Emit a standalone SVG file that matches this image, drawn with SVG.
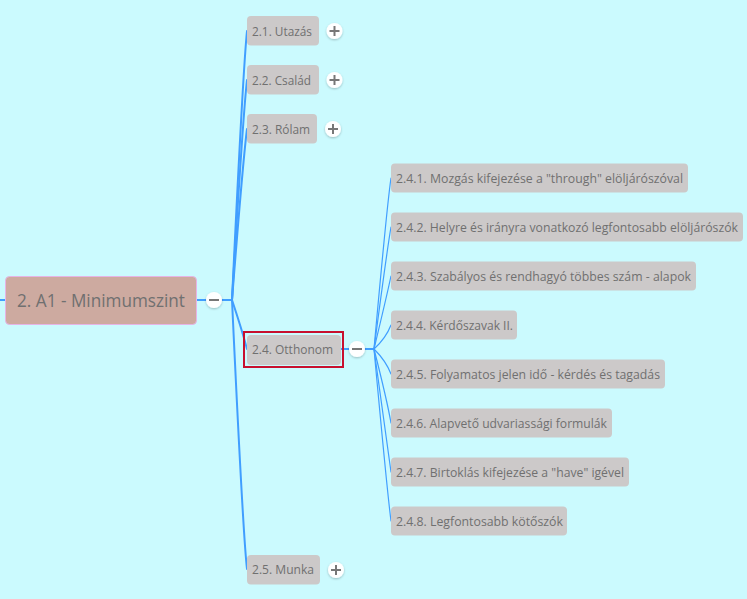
<svg xmlns="http://www.w3.org/2000/svg" width="747" height="599" viewBox="0 0 747 599">
<defs>
<filter id="sh" x="-50%" y="-50%" width="200%" height="200%">
<feDropShadow dx="0" dy="1" stdDeviation="0.8" flood-color="#000" flood-opacity="0.25"/>
</filter>
</defs>
<style>
.bg{fill:#CBFAFE}
.box{fill:#CCC9C9}
.root{fill:#CDAAA0;stroke:#E6B4E6;stroke-width:1}
.t{font-family:"Open Sans","Noto Sans",sans-serif;font-size:12px;fill:#707070}
.rt{font-family:"Open Sans","Noto Sans",sans-serif;font-size:19px;fill:#707070}
.l1{fill:none;stroke:#409EFF;stroke-width:2;stroke-linecap:round}
.l2{fill:none;stroke:#409EFF;stroke-width:1.2;stroke-linecap:round}
.btn{fill:#FFFFFF;filter:url(#sh)}
.sym{stroke:#777;stroke-width:2;fill:none}
.sel{fill:none;stroke:#C8102E;stroke-width:2}
</style>
<rect class="bg" x="0" y="0" width="747" height="599"/>
<g id="connectors">
<path class="l1" d="M0,300 H5"/>
<path class="l1" d="M196,300 H232"/>
<path class="l1" d="M232,300 Q243,70 247,31"/>
<path class="l1" d="M232,300 Q243,115 247,80"/>
<path class="l1" d="M232,300 Q243,160 247,129"/>
<path class="l1" d="M232,300 Q242,330 247,349"/>
<path class="l1" d="M232,300 Q243,535 247,569"/>
<path class="l1" d="M341,349 H374"/>
<path class="l2" d="M374,349 Q387,205 391,178"/>
<path class="l2" d="M374,349 Q387,250 391,227"/>
<path class="l2" d="M374,349 Q387,295 391,276"/>
<path class="l2" d="M374,349 Q386,338 391,325"/>
<path class="l2" d="M374,349 Q386,361 391,374"/>
<path class="l2" d="M374,349 Q387,400 391,423"/>
<path class="l2" d="M374,349 Q387,445 391,472"/>
<path class="l2" d="M374,349 Q387,490 391,521"/>
</g>
<g id="root">
<rect class="root" x="5.5" y="276.5" width="191" height="48" rx="4"/>
<text class="rt" x="17" y="307" textLength="168" lengthAdjust="spacingAndGlyphs">2. A1 - Minimumszint</text>
<circle class="btn" cx="214" cy="300" r="8"/>
<path class="sym" d="M209,300 H219"/>
</g>
<g id="n21">
<rect class="box" x="247" y="16" width="72" height="29.5" rx="4"/>
<text class="t" x="252" y="35.5" textLength="60" lengthAdjust="spacingAndGlyphs">2.1. Utazás</text>
<circle class="btn" cx="334.5" cy="31" r="8"/>
<path class="sym" d="M329.5,31 H339.5 M334.5,26 V36"/>
</g>
<g id="n22">
<rect class="box" x="247" y="65" width="72" height="29.5" rx="4"/>
<text class="t" x="252" y="84.5" textLength="59" lengthAdjust="spacingAndGlyphs">2.2. Család</text>
<circle class="btn" cx="334.5" cy="80" r="8"/>
<path class="sym" d="M329.5,80 H339.5 M334.5,75 V85"/>
</g>
<g id="n23">
<rect class="box" x="247" y="114" width="70" height="29.5" rx="4"/>
<text class="t" x="252" y="133.5" textLength="58" lengthAdjust="spacingAndGlyphs">2.3. Rólam</text>
<circle class="btn" cx="333" cy="129" r="8"/>
<path class="sym" d="M328,129 H338 M333,124 V134"/>
</g>
<g id="n24">
<rect class="box" x="247" y="335" width="94" height="30" rx="4"/>
<rect class="sel" x="244" y="332" width="99" height="35"/>
<text class="t" x="252" y="353.5" textLength="81" lengthAdjust="spacingAndGlyphs">2.4. Otthonom</text>
<circle class="btn" cx="357" cy="349" r="8"/>
<path class="sym" d="M352,349 H362"/>
</g>
<g id="n25">
<rect class="box" x="247" y="555" width="73" height="29.5" rx="4"/>
<text class="t" x="252" y="574" textLength="62" lengthAdjust="spacingAndGlyphs">2.5. Munka</text>
<circle class="btn" cx="336" cy="570" r="8"/>
<path class="sym" d="M331,570 H341 M336,565 V575"/>
</g>
<g id="n241">
<rect class="box" x="391" y="163.5" width="297" height="29" rx="4"/>
<text class="t" x="396" y="182.5" textLength="287" lengthAdjust="spacingAndGlyphs">2.4.1. Mozgás kifejezése a "through" elöljárószóval</text>
</g>
<g id="n242">
<rect class="box" x="391" y="212.5" width="352" height="29" rx="4"/>
<text class="t" x="396" y="231.5" textLength="342" lengthAdjust="spacingAndGlyphs">2.4.2. Helyre és irányra vonatkozó legfontosabb elöljárószók</text>
</g>
<g id="n243">
<rect class="box" x="391" y="261.5" width="305" height="29" rx="4"/>
<text class="t" x="396" y="280.5" textLength="295" lengthAdjust="spacingAndGlyphs">2.4.3. Szabályos és rendhagyó többes szám - alapok</text>
</g>
<g id="n244">
<rect class="box" x="391" y="310.5" width="126" height="29" rx="4"/>
<text class="t" x="396" y="329.5" textLength="117" lengthAdjust="spacingAndGlyphs">2.4.4. Kérdőszavak II.</text>
</g>
<g id="n245">
<rect class="box" x="391" y="359.5" width="274" height="29" rx="4"/>
<text class="t" x="396" y="378.5" textLength="264" lengthAdjust="spacingAndGlyphs">2.4.5. Folyamatos jelen idő - kérdés és tagadás</text>
</g>
<g id="n246">
<rect class="box" x="391" y="408.5" width="221" height="29" rx="4"/>
<text class="t" x="396" y="427.5" textLength="211" lengthAdjust="spacingAndGlyphs">2.4.6. Alapvető udvariassági formulák</text>
</g>
<g id="n247">
<rect class="box" x="391" y="457.5" width="238" height="29" rx="4"/>
<text class="t" x="396" y="476.5" textLength="228" lengthAdjust="spacingAndGlyphs">2.4.7. Birtoklás kifejezése a "have" igével</text>
</g>
<g id="n248">
<rect class="box" x="391" y="506.5" width="176" height="29" rx="4"/>
<text class="t" x="396" y="525.5" textLength="167" lengthAdjust="spacingAndGlyphs">2.4.8. Legfontosabb kötőszók</text>
</g>
</svg>
